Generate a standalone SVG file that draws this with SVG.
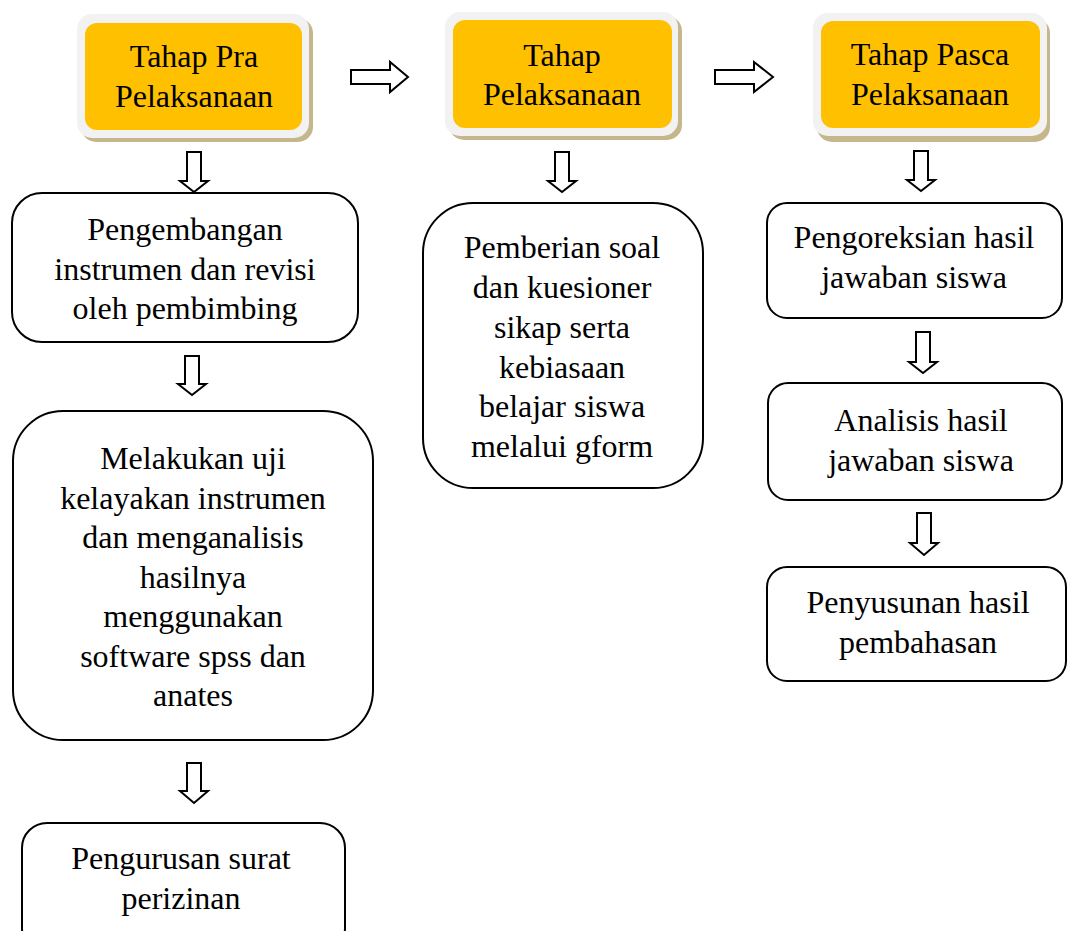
<svg xmlns="http://www.w3.org/2000/svg" width="1067" height="931" viewBox="0 0 1067 931">
<style>
.t{font-family:"Liberation Serif","Times New Roman",serif;font-size:32px;fill:#000;text-anchor:middle}
.box{fill:#fff;stroke:#000;stroke-width:2}
.shadow{fill:#c6b68c}
.outer{fill:#f2f2f2}
.inner{fill:#ffc000}
.arr{fill:#fff;stroke:#000;stroke-width:2;stroke-linejoin:miter}
</style>
<rect width="1067" height="931" fill="#fff"/>
<g id="head1">
<rect class="shadow" x="81" y="18" width="232" height="124" rx="15"/>
<rect class="outer" x="77" y="14" width="232" height="124" rx="15"/>
<rect class="inner" x="85" y="23" width="217" height="107" rx="12"/>
<text class="t" x="194" y="67">Tahap Pra</text>
<text class="t" x="194" y="107">Pelaksanaan</text>
</g>
<g id="head2">
<rect class="shadow" x="449" y="16" width="233" height="124" rx="15"/>
<rect class="outer" x="445" y="12" width="233" height="124" rx="15"/>
<rect class="inner" x="453" y="20" width="219" height="108" rx="12"/>
<text class="t" x="562" y="66">Tahap</text>
<text class="t" x="562" y="105">Pelaksanaan</text>
</g>
<g id="head3">
<rect class="shadow" x="817" y="18" width="233" height="124" rx="15"/>
<rect class="outer" x="813" y="13" width="234" height="123" rx="15"/>
<rect class="inner" x="821" y="21" width="219" height="107" rx="12"/>
<text class="t" x="930" y="65">Tahap Pasca</text>
<text class="t" x="930" y="105">Pelaksanaan</text>
</g>
<g id="boxA">
<rect class="box" x="12" y="193" width="346" height="149" rx="30"/>
<text class="t" x="185" y="240">Pengembangan</text>
<text class="t" x="185" y="279.5">instrumen dan revisi</text>
<text class="t" x="185" y="319">oleh pembimbing</text>
</g>
<g id="boxB">
<rect class="box" x="13" y="411" width="360" height="329" rx="50"/>
<text class="t" x="193" y="469">Melakukan uji</text>
<text class="t" x="193" y="508.5">kelayakan instrumen</text>
<text class="t" x="193" y="548">dan menganalisis</text>
<text class="t" x="193" y="587.5">hasilnya</text>
<text class="t" x="193" y="627">menggunakan</text>
<text class="t" x="193" y="666.5">software spss dan</text>
<text class="t" x="193" y="706">anates</text>
</g>
<g id="boxC">
<rect class="box" x="22" y="823" width="323" height="130" rx="25"/>
<text class="t" x="181" y="869">Pengurusan surat</text>
<text class="t" x="181" y="909">perizinan</text>
</g>
<g id="boxD">
<rect class="box" x="423" y="203" width="280" height="285" rx="50"/>
<text class="t" x="562" y="258">Pemberian soal</text>
<text class="t" x="562" y="298">dan kuesioner</text>
<text class="t" x="562" y="338">sikap serta</text>
<text class="t" x="562" y="378">kebiasaan</text>
<text class="t" x="562" y="417">belajar siswa</text>
<text class="t" x="562" y="457">melalui gform</text>
</g>
<g id="boxE">
<rect class="box" x="767" y="203" width="295" height="115" rx="20"/>
<text class="t" x="914" y="248">Pengoreksian hasil</text>
<text class="t" x="914" y="288">jawaban siswa</text>
</g>
<g id="boxF">
<rect class="box" x="768" y="383" width="294" height="117" rx="20"/>
<text class="t" x="921" y="431">Analisis hasil</text>
<text class="t" x="921" y="471">jawaban siswa</text>
</g>
<g id="boxG">
<rect class="box" x="767" y="567" width="299" height="114" rx="20"/>
<text class="t" x="918" y="613">Penyusunan hasil</text>
<text class="t" x="918" y="653">pembahasan</text>
</g>
<g id="connectors">
<path class="arr" d="M351,70 H390 V62 L408,77 L390,92 V84 H351 Z"/>
<path class="arr" d="M715,70 H754 V62 L773,77 L754,92 V84 H715 Z"/>
<path class="arr" d="M187,152 V181 H180 L194,192 L208,181 H201 V152 Z"/>
<path class="arr" d="M185,356 V384 H178 L192,395 L206,384 H199 V356 Z"/>
<path class="arr" d="M187,763 V791 H180 L194,803 L208,791 H201 V763 Z"/>
<path class="arr" d="M555,152 V181 H548 L562,192 L576,181 H569 V152 Z"/>
<path class="arr" d="M914,151 V180 H907 L921,191 L935,180 H928 V151 Z"/>
<path class="arr" d="M916,332 V362 H909 L923,373 L937,362 H930 V332 Z"/>
<path class="arr" d="M917,513 V543 H910 L924,555 L938,543 H931 V513 Z"/>
</g>
</svg>
